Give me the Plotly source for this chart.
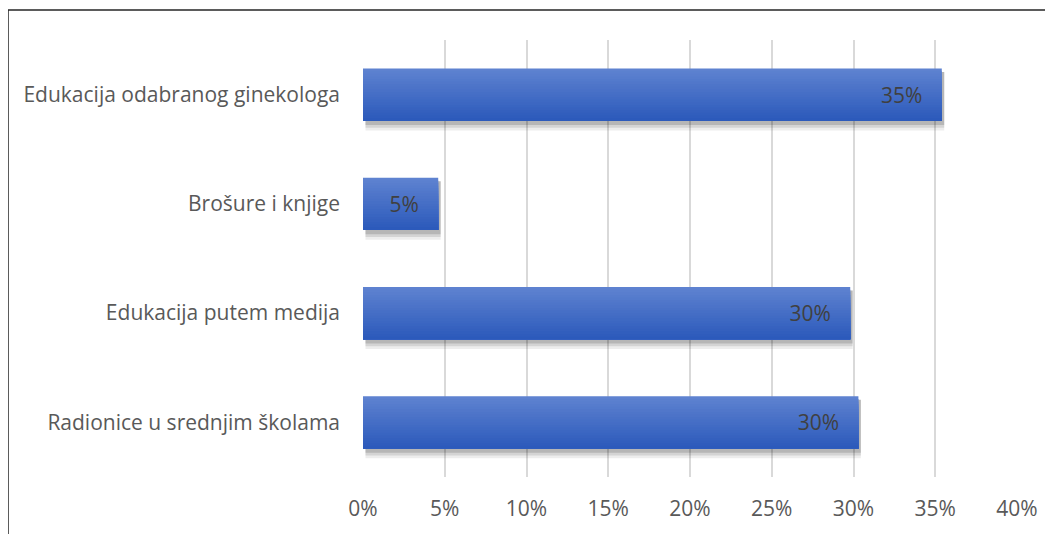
import plotly.graph_objects as go

categories = [
    "Edukacija odabranog ginekologa",
    "Brošure i knjige",
    "Edukacija putem medija",
    "Radionice u srednjim školama",
]
shares = [0.354, 0.046, 0.298, 0.303]
tick_values = [0, 0.05, 0.10, 0.15, 0.20, 0.25, 0.30, 0.35, 0.40]
tick_labels = ["0%", "5%", "10%", "15%", "20%", "25%", "30%", "35%", "40%"]

FONT = "'Open Sans', sans-serif"
FSIZE = 21
BAR_W = 0.476

# gradient: light blue on top, darker at the bottom
TOP_RGB = (94, 130, 208)
BOTTOM_RGB = (44, 90, 187)
N_BANDS = 20


def band_color(i):
    t = i / (N_BANDS - 1)
    r, g, b = (round(a + (c - a) * t) for a, c in zip(TOP_RGB, BOTTOM_RGB))
    return f"rgb({r},{g},{b})"


fig = go.Figure()

# soft drop shadow behind the bars
for alpha, grow in [(0.07, 0.08), (0.10, 0.055), (0.14, 0.03)]:
    fig.add_trace(go.Bar(
        y=categories, x=shares, base=0.0015, orientation="h",
        width=BAR_W + grow - 0.02, offset=-BAR_W / 2 + 0.03,
        marker=dict(color=f"rgba(0,0,0,{alpha})", line=dict(width=0)),
        hoverinfo="skip", showlegend=False,
    ))

# each band reaches the bottom of the bar, so there are no seams
for i in range(N_BANDS):
    fig.add_trace(go.Bar(
        y=categories, x=shares, orientation="h",
        width=BAR_W * (N_BANDS - i) / N_BANDS,
        offset=-BAR_W / 2 + i * BAR_W / N_BANDS,
        marker=dict(color=band_color(i), line=dict(width=0)),
        hoverinfo="skip", showlegend=False,
    ))

# value labels
fig.add_trace(go.Bar(
    y=categories, x=shares, orientation="h",
    width=BAR_W, offset=-BAR_W / 2,
    marker=dict(color="rgba(0,0,0,0)", line=dict(width=0)),
    texttemplate="%{x:.0%}\u00a0\u00a0\u00a0",
    textposition="inside", insidetextanchor="end",
    textfont=dict(family=FONT, size=FSIZE, color="#404040"),
    constraintext="none",
    hoverinfo="skip", showlegend=False,
))

fig.update_layout(
    width=1045, height=526,
    barmode="overlay",
    paper_bgcolor="white", plot_bgcolor="white",
    margin=dict(l=355, r=36, t=32, b=57),
    font=dict(family=FONT, size=FSIZE, color="#595959"),
    xaxis=dict(
        range=[0, 0.4], tickvals=tick_values, ticktext=tick_labels,
        showgrid=True, gridcolor="#d9d9d9", gridwidth=1.5,
        zeroline=False, showline=False, ticks="", ticklabelstandoff=17,
        tickfont=dict(size=FSIZE, color="#595959"),
    ),
    yaxis=dict(
        autorange="reversed", showgrid=False, zeroline=False,
        ticks="", ticklabelstandoff=22,
        tickfont=dict(size=FSIZE, color="#595959"),
    ),
    shapes=[dict(
        type="rect", xref="paper", yref="paper",
        x0=(0 - 355) / 654, x1=1.2, y0=-0.3, y1=(469 - 2) / 437,
        line=dict(color="#262626", width=1.5), layer="below",
    )],
)

fig.write_html("out.html")
